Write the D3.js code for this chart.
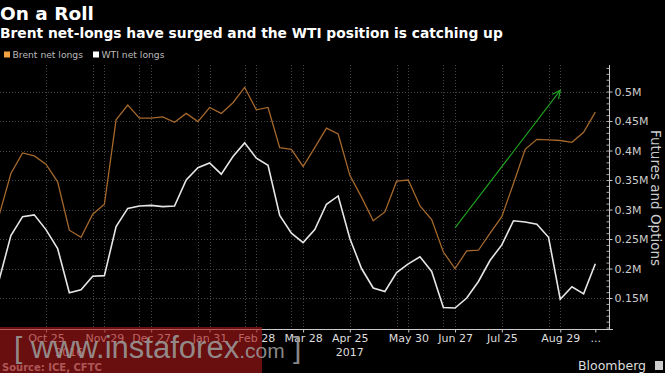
<!DOCTYPE html>
<html>
<head>
<meta charset="utf-8">
<script src="https://cdn.jsdelivr.net/npm/d3@7"></script>
<style>
  body { margin: 0; background: #000; }
  svg { display: block; font-family: "DejaVu Sans", sans-serif; }
</style>
</head>
<body>
<svg id="chart" width="665" height="373"></svg>
<script>
// weekly CFTC report dates (Tuesdays)
const dates = [
  "2016-09-27","2016-10-04","2016-10-11","2016-10-18","2016-10-25","2016-11-01","2016-11-08","2016-11-15",
  "2016-11-22","2016-11-29","2016-12-06","2016-12-13","2016-12-20","2016-12-27","2017-01-03","2017-01-10",
  "2017-01-17","2017-01-24","2017-01-31","2017-02-07","2017-02-14","2017-02-21","2017-02-28","2017-03-07",
  "2017-03-14","2017-03-21","2017-03-28","2017-04-04","2017-04-11","2017-04-18","2017-04-25","2017-05-02",
  "2017-05-09","2017-05-16","2017-05-23","2017-05-30","2017-06-06","2017-06-13","2017-06-20","2017-06-27",
  "2017-07-04","2017-07-11","2017-07-18","2017-07-25","2017-08-01","2017-08-08","2017-08-15","2017-08-22",
  "2017-08-29","2017-09-05","2017-09-12","2017-09-19"
];

// net longs, millions of contracts
const brent = [
  0.291,0.361,0.396,0.391,0.377,0.347,0.265,0.253,0.292,0.309,0.452,0.477,0.455,0.455,0.457,0.448,
  0.463,0.449,0.473,0.463,0.481,0.507,0.469,0.473,0.405,0.402,0.373,0.405,0.438,0.428,0.358,0.321,
  0.281,0.296,0.348,0.350,0.306,0.283,0.228,0.200,0.230,0.231,0.260,0.288,0.344,0.402,0.419,0.418,
  0.417,0.414,0.431,0.465
];
const wti = [
  0.181,0.256,0.288,0.291,0.266,0.234,0.159,0.164,0.187,0.188,0.271,0.302,0.306,0.307,0.305,0.306,
  0.350,0.371,0.379,0.360,0.390,0.413,0.387,0.375,0.290,0.260,0.244,0.266,0.309,0.323,0.251,0.200,
  0.167,0.161,0.193,0.208,0.220,0.195,0.134,0.133,0.150,0.178,0.214,0.240,0.281,0.279,0.275,0.253,
  0.148,0.169,0.157,0.208
];

const tickDates = ["2016-10-25","2016-11-29","2016-12-27","2017-01-31","2017-02-28","2017-03-28",
  "2017-04-25","2017-05-30","2017-06-27","2017-07-25","2017-08-29","2017-09-19"];
const tickLabels = ["Oct 25","Nov 29","Dec 27","Jan 31","Feb 28","Mar 28","Apr 25","May 30","Jun 27","Jul 25","Aug 29","..."];
const gridDates = ["2016-10-25","2016-11-22","2016-11-29","2016-12-20","2016-12-27","2017-01-24","2017-01-31",
  "2017-02-21","2017-02-28","2017-03-21","2017-03-28","2017-04-25","2017-05-23","2017-05-30","2017-06-20",
  "2017-06-27","2017-07-25","2017-08-22","2017-08-29"];
const yTicks = [0.15, 0.2, 0.25, 0.3, 0.35, 0.4, 0.45, 0.5];
const yearLabels = [{ date: "2016-11-08", label: "2016" }, { date: "2017-04-25", label: "2017" }];
const arrowFrom = { date: "2017-06-27", value: 0.269 };
const arrowTo = { date: "2017-08-29", value: 0.502 };

const parse = d3.timeParse("%Y-%m-%d");
const svg = d3.select("#chart");
const W = 665, H = 373;
const plot = { left: 0, right: 609, top: 65, bottom: 329 };

svg.append("rect").attr("width", W).attr("height", H).attr("fill", "#000");

const x = d3.scaleTime()
  .domain([parse(dates[0]), parse(dates[dates.length - 1])])
  .range([-0.8, 595.3]);
const y = d3.scaleLinear().domain([0.0975, 0.545]).range([plot.bottom, plot.top]);

// titles
svg.append("text").attr("x", 0).attr("y", 20)
  .style("font-size", "18.5px").style("font-weight", "bold").attr("fill", "#fff")
  .text("On a Roll");
svg.append("text").attr("x", 0).attr("y", 38)
  .style("font-size", "13.8px").style("font-weight", "bold").attr("fill", "#fff")
  .text("Brent net-longs have surged and the WTI position is catching up");

// legend
const legend = [{ name: "Brent net longs", color: "#f2a040", x: 4 }, { name: "WTI net longs", color: "#ffffff", x: 93 }];
legend.forEach(l => {
  svg.append("rect").attr("x", l.x).attr("y", 51.5).attr("width", 6).attr("height", 6).attr("fill", l.color);
  svg.append("text").attr("x", l.x + 8.5).attr("y", 58)
    .style("font-size", "9.2px").attr("fill", "#bbb").text(l.name);
});

// grid
const grid = svg.append("g").attr("stroke", "#444").attr("stroke-width", 1).attr("stroke-dasharray", "1,2");
grid.selectAll(".h").data(yTicks).enter().append("line")
  .attr("x1", 0).attr("x2", plot.right)
  .attr("y1", d => Math.round(y(d)) + 0.5).attr("y2", d => Math.round(y(d)) + 0.5);
grid.selectAll(".v").data(gridDates).enter().append("line")
  .attr("x1", d => Math.round(x(parse(d))) + 0.5).attr("x2", d => Math.round(x(parse(d))) + 0.5)
  .attr("y1", plot.top).attr("y2", plot.bottom);

// lines
const line = d3.line().x((d, i) => x(parse(dates[i]))).y(d => y(d));
svg.append("path").datum(brent).attr("d", line)
  .attr("fill", "none").attr("stroke", "#a5682c").attr("stroke-width", 1.3);
svg.append("path").datum(wti).attr("d", line)
  .attr("fill", "none").attr("stroke", "#e6e6e6").attr("stroke-width", 1.6);

// green arrow
svg.append("defs").append("marker")
  .attr("id", "arr").attr("viewBox", "0 0 10 10").attr("refX", 9).attr("refY", 5)
  .attr("markerWidth", 9).attr("markerHeight", 9).attr("orient", "auto")
  .append("path").attr("d", "M1,1 L9,5 L1,9").attr("fill", "none").attr("stroke", "#1fa51f").attr("stroke-width", 1.2);
svg.append("line")
  .attr("x1", x(parse(arrowFrom.date))).attr("y1", y(arrowFrom.value))
  .attr("x2", x(parse(arrowTo.date))).attr("y2", y(arrowTo.value))
  .attr("stroke", "#1fa51f").attr("stroke-width", 1.1).attr("marker-end", "url(#arr)");

// right axis
const yAxis = svg.append("g").attr("transform", `translate(${plot.right + 0.5},0)`)
  .call(d3.axisRight(y).tickValues(yTicks).tickSize(3).tickPadding(2).tickFormat(d => d3.format("~g")(d) + "M"));
yAxis.select(".domain").remove();
yAxis.selectAll("line").attr("stroke", "#ccc");
yAxis.selectAll("text").attr("fill", "#ccc").style("font-size", "11px").style("font-family", "DejaVu Sans");
const minor = svg.append("g").attr("transform", `translate(${plot.right + 0.5},0)`)
  .call(d3.axisLeft(y).tickValues(d3.range(10, 55).map(v => v / 100)).tickSize(3).tickFormat(""));
minor.select(".domain").remove();
minor.selectAll("line").attr("stroke", "#aaa");
svg.append("line").attr("x1", plot.right + 0.5).attr("x2", plot.right + 0.5)
  .attr("y1", plot.top).attr("y2", plot.bottom + 0.5).attr("stroke", "#ccc");

svg.append("text")
  .attr("transform", `translate(651,${(plot.top + plot.bottom) / 2 + 1}) rotate(90)`)
  .attr("text-anchor", "middle").style("font-size", "13.5px").attr("fill", "#ccc")
  .text("Futures and Options");

// bottom axis
const xAxis = svg.append("g").attr("transform", `translate(0,${plot.bottom + 0.5})`)
  .call(d3.axisBottom(x).tickValues(tickDates.map(parse)).tickSize(3).tickPadding(2)
    .tickFormat((d, i) => tickLabels[i]));
xAxis.select(".domain").remove();
xAxis.selectAll("line").attr("stroke", "#ccc");
xAxis.selectAll("text").attr("fill", "#ddd").style("font-size", "11px").style("font-family", "DejaVu Sans");
svg.append("line").attr("x1", 0).attr("x2", plot.right + 4)
  .attr("y1", plot.bottom + 0.5).attr("y2", plot.bottom + 0.5).attr("stroke", "#ccc");

svg.selectAll(".year").data(yearLabels).enter().append("text")
  .attr("x", d => x(parse(d.date))).attr("y", 356)
  .attr("text-anchor", "middle").style("font-size", "11px").attr("fill", "#ddd")
  .text(d => d.label);

// footer
svg.append("text").attr("x", 2).attr("y", 371)
  .style("font-size", "10px").style("font-weight", "bold").attr("fill", "#bbb")
  .text("Source: ICE, CFTC");
svg.append("text").attr("x", 646).attr("y", 370).attr("text-anchor", "end")
  .style("font-size", "12.5px").attr("fill", "#ddd").text("Bloomberg");
svg.append("rect").attr("x", 655).attr("y", 361).attr("width", 8).attr("height", 9).attr("fill", "#ccc");

// watermark overlay
svg.append("rect").attr("x", 0).attr("y", 327).attr("width", 262).attr("height", 46)
  .attr("fill", "rgb(170,25,25)").attr("opacity", 0.62);
const wm = svg.append("text").attr("x", 14).attr("y", 358)
  .style("font-family", "Liberation Sans, sans-serif").attr("fill", "#9a9a9a").attr("fill-opacity", 0.9);
wm.append("tspan").style("font-size", "30px").text("[ ");
wm.append("tspan").style("font-size", "31px").text("www.instaforex");
wm.append("tspan").style("font-size", "21px").text(".com");
wm.append("tspan").style("font-size", "30px").text(" ]");
</script>
</body>
</html>
